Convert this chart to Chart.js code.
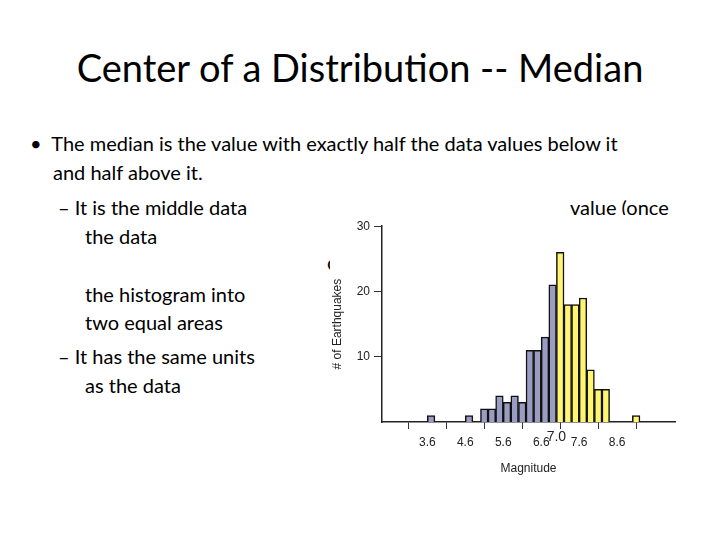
<!DOCTYPE html>
<html><head><meta charset="utf-8">
<script src="https://cdn.jsdelivr.net/npm/chart.js@4"></script>
<style>
body{margin:0;width:720px;height:540px;background:#fff;position:relative;overflow:hidden;font-family:Lato,"Open Sans",sans-serif;color:#000}
.t{position:absolute;white-space:nowrap;font-size:20px}
#title{position:absolute;left:0;width:720px;top:44px;text-align:center;font-size:38px}
#wrap{position:absolute;left:330px;top:215px;width:360px;height:265px;background:#fff}
</style></head><body>
<div id="title">Center of a Distribution -- Median</div>
<div class="t" style="left:30px;top:131px">• &nbsp;The median is the value with exactly half the data values below it</div>
<div class="t" style="left:53px;top:160px">and half above it.</div>
<div class="t" style="left:58px;top:195px">– It is the middle data</div>
<div class="t" style="left:570px;top:195px">value (once</div>
<div class="t" style="left:85px;top:224px">the data</div>
<div class="t" style="left:327px;top:250px">o</div>
<div class="t" style="left:85px;top:282px">the histogram into</div>
<div class="t" style="left:85px;top:310px">two equal areas</div>
<div class="t" style="left:58px;top:344px">– It has the same units</div>
<div class="t" style="left:85px;top:373px">as the data</div>
<div id="wrap"><canvas id="c" width="360" height="265"></canvas></div>
<script>
const binStarts=[3.6,3.8,4.0,4.2,4.4,4.6,4.8,5.0,5.2,5.4,5.6,5.8,6.0,6.2,6.4,6.6,6.8,7.0,7.2,7.4,7.6,7.8,8.0,8.2,8.4,8.6,8.8,9.0];
const counts=[1,0,0,0,0,1,0,2,2,4,3,4,3,11,11,13,21,26,18,18,19,8,5,5,0,0,0,1];
const tickLabels=[3.6,4.6,5.6,6.6,7.6,8.6];
const medianLabel=7.0;
const blue='#9a9cc2',yellow='#fff570';
const seven={id:'seven',afterDraw(ch){const x=ch.scales.x,c=ch.ctx;c.save();c.font='14px "Liberation Sans Narrow","Liberation Sans",sans-serif';c.fillStyle='#222';c.textAlign='center';c.fillText(medianLabel.toFixed(1),x.getPixelForValue(medianLabel),ch.chartArea.bottom+19);c.restore();}};
new Chart(document.getElementById('c'),{type:'bar',
data:{datasets:[{data:binStarts.map((b,i)=>({x:+(b+0.1).toFixed(2),y:counts[i]})),
backgroundColor:binStarts.map(b=>b<6.99?blue:yellow),borderColor:'#111',borderWidth:1.5,barPercentage:1,categoryPercentage:1}]},
options:{responsive:false,animation:false,layout:{padding:{top:11,right:15}},plugins:{legend:{display:false},tooltip:{enabled:false}},
scales:{x:{type:'linear',min:3.05,max:9.48,afterBuildTicks(s){s.ticks=tickLabels.map(v=>({value:v}))},afterFit(s){s.height=58},
ticks:{callback:v=>v.toFixed(1),color:'#222',font:{size:12,family:'"Liberation Sans Narrow","Liberation Sans"'},padding:6,maxRotation:0,autoSkip:false},
grid:{display:true,drawOnChartArea:false,tickLength:7,color:'#333'},border:{color:'#222',width:1.5},
title:{display:true,text:'Magnitude',color:'#222',font:{size:12,family:'"Liberation Sans Narrow","Liberation Sans"'},padding:{top:2}}},
y:{min:0,max:30,afterBuildTicks(s){s.ticks=[10,20,30].map(v=>({value:v}))},afterFit(s){s.width=52},
ticks:{color:'#222',font:{size:12,family:'"Liberation Sans Narrow","Liberation Sans"'},padding:4},
grid:{drawOnChartArea:false,tickLength:8,color:'#333'},border:{color:'#222',width:1.5},
title:{display:true,text:'# of Earthquakes',color:'#222',font:{size:12,family:'"Liberation Sans Narrow","Liberation Sans"'},padding:0}}}},
plugins:[seven]});
</script></body></html>
